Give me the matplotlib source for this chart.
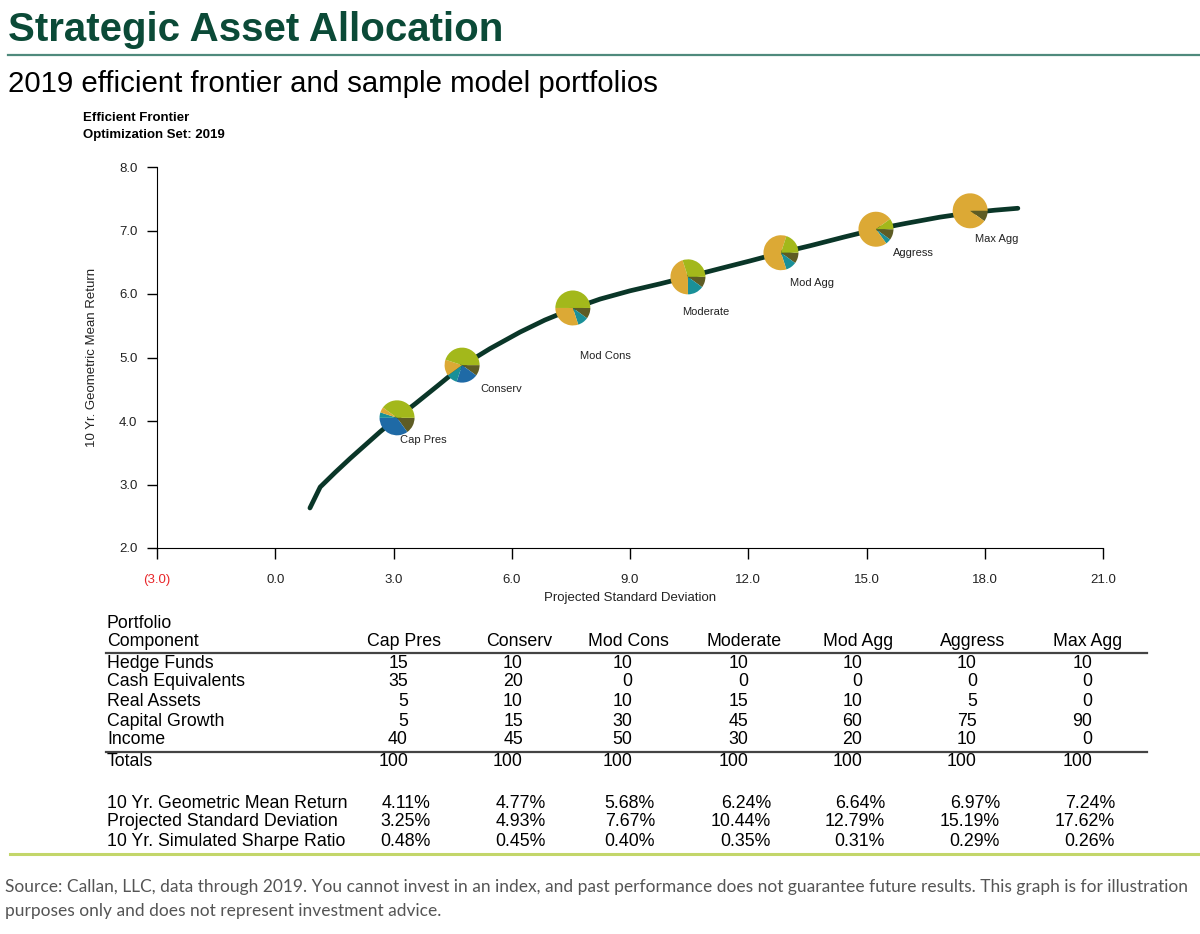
import numpy as np
import matplotlib
matplotlib.use("Agg")
import matplotlib.pyplot as plt

# efficient frontier
frontier_sd = [0.88, 1.14, 1.52, 1.90, 2.28, 2.66, 3.09, 3.55, 4.13, 4.74, 5.45,
               6.21, 6.84, 7.55, 8.24, 9.00, 9.76, 10.47, 11.28, 12.04, 12.83,
               13.57, 14.45, 15.24, 15.98, 16.86, 17.63, 18.26, 18.84]
frontier_ret = [2.63, 2.96, 3.19, 3.41, 3.62, 3.83, 4.05, 4.27, 4.56, 4.87, 5.14,
                5.40, 5.59, 5.77, 5.92, 6.05, 6.16, 6.27, 6.40, 6.52, 6.65,
                6.76, 6.90, 7.02, 7.11, 7.21, 7.28, 7.32, 7.35]

portfolios = ["Cap Pres", "Conserv", "Mod Cons", "Moderate", "Mod Agg", "Aggress", "Max Agg"]
pie_sd = [3.09, 4.74, 7.55, 10.47, 12.83, 15.24, 17.63]
pie_ret = [4.05, 4.88, 5.78, 6.27, 6.65, 7.02, 7.31]

components = ["Hedge Funds", "Cash Equivalents", "Real Assets", "Capital Growth", "Income"]
hedge_funds = [15, 10, 10, 10, 10, 10, 10]
cash_equiv = [35, 20, 0, 0, 0, 0, 0]
real_assets = [5, 10, 10, 15, 10, 5, 0]
capital_growth = [5, 15, 30, 45, 60, 75, 90]
income = [40, 45, 50, 30, 20, 10, 0]

geo_return = [4.11, 4.77, 5.68, 6.24, 6.64, 6.97, 7.24]
proj_sd = [3.25, 4.93, 7.67, 10.44, 12.79, 15.19, 17.62]
sharpe = [0.48, 0.45, 0.40, 0.35, 0.31, 0.29, 0.26]

x_ticks = [-3, 0, 3, 6, 9, 12, 15, 18, 21]
y_ticks = [2, 3, 4, 5, 6, 7, 8]

comp_colors = ["#5e5c24", "#1f6aa6", "#1a9098", "#dca935", "#a3b81b"]
line_color = "#0a3628"
title_color = "#0b4a37"

plt.rcParams["font.family"] = ["Liberation Sans", "DejaVu Sans"]

W, H = 1200, 934
fig = plt.figure(figsize=(12, 9.34), dpi=100)

# pixel frame for the page text
bg = fig.add_axes([0, 0, 1, 1])
bg.set_xlim(0, W)
bg.set_ylim(H, 0)
bg.axis("off")

bg.text(8, 41, "Strategic Asset Allocation", fontsize=29, fontweight="bold",
        color=title_color, va="baseline")
bg.plot([8, W], [55, 55], color="#4f8a7c", lw=1.6)
bg.text(8, 92, "2019 efficient frontier and sample model portfolios", fontsize=21.2,
        color="black", va="baseline")
bg.text(83, 118, "Efficient Frontier", fontsize=9.5, fontweight="bold", va="center")
bg.text(83, 135, "Optimization Set: 2019", fontsize=9.5, fontweight="bold", va="center")

# main chart
ax = fig.add_axes([157 / W, 1 - 548 / H, 946 / W, 381 / H])
ax.plot(frontier_sd, frontier_ret, color=line_color, lw=3.4, solid_capstyle="round",
        solid_joinstyle="round")
ax.set_xlim(-3, 21)
ax.set_ylim(2, 8)
ax.set_xticks(x_ticks)
ax.set_yticks(y_ticks)
ax.set_xticklabels(["(%.1f)" % abs(t) if t < 0 else "%.1f" % t for t in x_ticks])
ax.set_yticklabels(["%.1f" % t for t in y_ticks])
for s in ["top", "right"]:
    ax.spines[s].set_visible(False)
ax.tick_params(axis="x", length=8, width=1, pad=11, labelsize=9.5, labelcolor="#222222")
ax.get_xticklabels()[0].set_color("#e8262a")
ax.tick_params(axis="y", length=7, width=1, pad=7, labelsize=9.5, labelcolor="#222222")
ax.set_xlabel("Projected Standard Deviation", fontsize=9.5, color="#222222")
ax.xaxis.set_label_coords(0.5, -0.1155)
ax.set_ylabel("10 Yr. Geometric Mean Return", fontsize=9.5, color="#222222")
ax.yaxis.set_label_coords(-0.0624, 0.5)

label_offsets = [(3, -22), (18, -24), (7, -48), (-6, -35), (9, -30), (17, -24), (5, -28)]
mixes = np.array([hedge_funds, cash_equiv, real_assets, capital_growth, income])
r = 17.5
for i, name in enumerate(portfolios):
    cx, cy = ax.transData.transform((pie_sd[i], pie_ret[i]))
    pax = fig.add_axes([(cx - r) / W, (cy - r) / H, 2 * r / W, 2 * r / H])
    vals = mixes[:, i]
    pax.pie(vals, colors=comp_colors, startangle=0, counterclock=False,
            wedgeprops=dict(linewidth=0))
    pax.set_xlim(-1, 1)
    pax.set_ylim(-1, 1)
    pax.axis("off")
    dx, dy = label_offsets[i]
    ax.annotate(name, (pie_sd[i], pie_ret[i]), xytext=(dx * 0.72, dy * 0.72),
                textcoords="offset points", fontsize=8, color="#222222",
                ha="left", va="center")

# table
col_x = [404, 519, 628, 744, 858, 973, 1088]
row_x = 107
fs = 12.8
bg.text(row_x, 624, "Portfolio", fontsize=fs, va="center")
bg.text(row_x, 642, "Component", fontsize=fs, va="center")
for j, name in enumerate(portfolios):
    bg.text(col_x[j], 642, name, fontsize=fs, ha="center", va="center")
bg.plot([106, 1147], [653, 653], color="#444444", lw=1.6)

row_y = [663, 682, 702, 721, 740]
for k, comp in enumerate(components):
    bg.text(row_x, row_y[k], comp, fontsize=fs, va="center")
    for j in range(len(portfolios)):
        bg.text(col_x[j] + 4, row_y[k], str(mixes[k, j]), fontsize=fs, ha="right",
                va="center")
bg.plot([106, 1147], [752, 752], color="#444444", lw=1.6)

totals = mixes.sum(axis=0)
bg.text(row_x, 762, "Totals", fontsize=fs, va="center")
for j in range(len(portfolios)):
    bg.text(col_x[j] + 4, 762, str(totals[j]), fontsize=fs, ha="right", va="center")

stat_rows = [("10 Yr. Geometric Mean Return", geo_return),
             ("Projected Standard Deviation", proj_sd),
             ("10 Yr. Simulated Sharpe Ratio", sharpe)]
stat_y = [803, 822, 841]
for (label, vals), y in zip(stat_rows, stat_y):
    bg.text(row_x, y, label, fontsize=fs, va="center")
    for j, v in enumerate(vals):
        bg.text(col_x[j] + 27, y, "%.2f%%" % v, fontsize=fs, ha="right", va="center")

bg.plot([10, W], [854, 854], color="#c3d66a", lw=2.2)

foot_font = ["Lato", "DejaVu Sans"]
bg.text(5, 887, "Source: Callan, LLC, data through 2019. You cannot invest in an index, and past "
        "performance does not guarantee future results. This graph is for illustration",
        fontsize=12.5, color="#555555", va="center", family=foot_font)
bg.text(5, 911, "purposes only and does not represent investment advice.",
        fontsize=12.5, color="#555555", va="center", family=foot_font)

fig.savefig("out.png", dpi=100)
